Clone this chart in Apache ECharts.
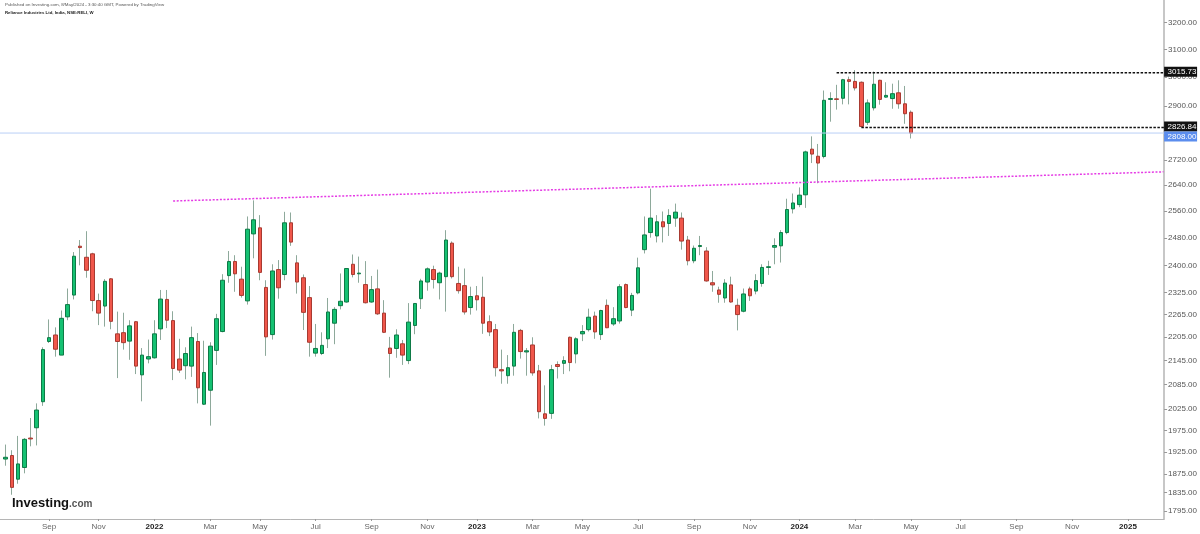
<!DOCTYPE html>
<html>
<head>
<meta charset="utf-8">
<title>Reliance Industries Ltd, NSE:RELI, W</title>
<script src="https://cdn.jsdelivr.net/npm/echarts@6/dist/echarts.min.js"></script>
<style>
  html, body { margin: 0; padding: 0; background: #fff; }
  #chart { width: 1200px; height: 534px; }
</style>
</head>
<body>
<div id="chart"></div>
<script>
// weekly bars, first bar = week of 19 Jul 2021, last = week of 6 May 2024
const firstWeek = '2021-07-19'

const opens = [
  1909, 1917, 1864, 1890, 1957, 1981, 2043, 2194, 2211, 2159, 2259, 2318, 2456, 2424, 2434, 2303, 2288, 2363, 2214, 2217,
  2195, 2246, 2109, 2149, 2152, 2227, 2306, 2249, 2149, 2132, 2131, 2194, 2037, 2071, 2171, 2220, 2372, 2412, 2362, 2302,
  2492, 2510, 2339, 2212, 2389, 2375, 2525, 2408, 2366, 2311, 2164, 2163, 2201, 2242, 2289, 2299, 2404, 2377, 2347, 2299,
  2335, 2269, 2177, 2176, 2188, 2145, 2236, 2308, 2354, 2389, 2352, 2369, 2465, 2350, 2344, 2284, 2316, 2312, 2246, 2225,
  2122, 2107, 2131, 2223, 2167, 2185, 2119, 2014, 2015, 2135, 2138, 2205, 2162, 2214, 2225, 2261, 2212, 2290, 2240, 2248,
  2347, 2277, 2324, 2446, 2496, 2486, 2528, 2523, 2539, 2539, 2474, 2414, 2455, 2442, 2352, 2332, 2310, 2346, 2290, 2274,
  2335, 2329, 2350, 2395, 2453, 2457, 2496, 2567, 2580, 2610, 2755, 2732, 2731, 2922, 2924, 2926, 2991, 2985, 2982, 2844,
  2893, 2989, 2930, 2925, 2945, 2907, 2878
]
const highs = [
  1942, 1929, 1962, 1957, 2004, 2039, 2179, 2252, 2231, 2276, 2336, 2439, 2474, 2500, 2437, 2322, 2362, 2365, 2273, 2270,
  2250, 2248, 2177, 2199, 2250, 2332, 2332, 2274, 2201, 2179, 2233, 2216, 2196, 2192, 2267, 2376, 2442, 2430, 2397, 2544,
  2593, 2548, 2359, 2404, 2416, 2558, 2556, 2430, 2375, 2343, 2240, 2218, 2310, 2285, 2378, 2393, 2432, 2426, 2413, 2371,
  2389, 2304, 2206, 2226, 2198, 2296, 2296, 2363, 2395, 2400, 2383, 2503, 2470, 2397, 2392, 2341, 2343, 2369, 2263, 2240,
  2173, 2159, 2240, 2227, 2177, 2205, 2134, 2083, 2134, 2143, 2156, 2207, 2205, 2237, 2281, 2273, 2278, 2306, 2285, 2348,
  2350, 2324, 2423, 2544, 2629, 2548, 2559, 2566, 2583, 2556, 2486, 2458, 2486, 2453, 2385, 2341, 2362, 2369, 2308, 2336,
  2341, 2376, 2404, 2414, 2479, 2503, 2598, 2614, 2633, 2750, 2797, 2772, 2953, 2947, 2973, 2994, 3002, 3025, 2985, 2922,
  3020, 2991, 2982, 2977, 2989, 2969, 2884
]
const lows = [
  1894, 1830, 1854, 1877, 1938, 1940, 2033, 2190, 2155, 2159, 2250, 2306, 2401, 2366, 2274, 2237, 2233, 2226, 2101, 2173,
  2147, 2111, 2044, 2138, 2150, 2198, 2229, 2096, 2114, 2098, 2104, 2039, 2035, 1986, 2134, 2218, 2352, 2327, 2311, 2292,
  2421, 2359, 2157, 2199, 2308, 2359, 2457, 2322, 2224, 2155, 2155, 2159, 2177, 2187, 2279, 2297, 2367, 2352, 2295, 2297,
  2264, 2216, 2102, 2152, 2134, 2136, 2213, 2280, 2330, 2336, 2306, 2273, 2364, 2322, 2265, 2265, 2276, 2214, 2208, 2105,
  2087, 2087, 2107, 2150, 2107, 2107, 2003, 1986, 2002, 2100, 2111, 2118, 2138, 2195, 2220, 2201, 2198, 2229, 2235, 2241,
  2282, 2261, 2320, 2435, 2481, 2467, 2467, 2486, 2513, 2446, 2401, 2407, 2430, 2355, 2327, 2297, 2297, 2297, 2223, 2271,
  2302, 2320, 2341, 2374, 2404, 2409, 2491, 2553, 2572, 2570, 2710, 2646, 2725, 2846, 2887, 2905, 2905, 2953, 2827, 2835,
  2884, 2904, 2928, 2890, 2890, 2839, 2790
]
const closes = [
  1913, 1846, 1898, 1954, 1955, 2023, 2173, 2204, 2174, 2255, 2292, 2427, 2452, 2387, 2303, 2269, 2356, 2247, 2194, 2191,
  2235, 2131, 2159, 2155, 2214, 2307, 2250, 2125, 2121, 2163, 2204, 2077, 2115, 2182, 2254, 2359, 2412, 2377, 2317, 2506,
  2534, 2381, 2206, 2385, 2338, 2525, 2468, 2354, 2271, 2192, 2176, 2184, 2272, 2279, 2301, 2392, 2375, 2379, 2297, 2333,
  2267, 2218, 2163, 2211, 2159, 2245, 2295, 2357, 2391, 2361, 2379, 2474, 2369, 2330, 2272, 2314, 2305, 2242, 2219, 2127,
  2119, 2127, 2218, 2168, 2170, 2114, 2019, 2003, 2122, 2130, 2145, 2140, 2201, 2220, 2258, 2219, 2276, 2230, 2254, 2341,
  2284, 2317, 2394, 2489, 2539, 2528, 2513, 2547, 2557, 2471, 2414, 2450, 2458, 2357, 2346, 2320, 2351, 2299, 2265, 2321,
  2316, 2358, 2395, 2397, 2458, 2496, 2565, 2585, 2609, 2746, 2739, 2710, 2919, 2925, 2922, 2991, 2985, 2962, 2830, 2910,
  2975, 2922, 2936, 2942, 2907, 2873, 2808
]

// right price scale (log), bottom date scale
const yTicks = [3200, 3100, 3000, 2900, 2800, 2720, 2640, 2560, 2480, 2400, 2325, 2265, 2205, 2145, 2085, 2025, 1975, 1925, 1875, 1835, 1795]
const xTickDates = [
  '2021-09-06', '2021-11-01', '2022-01-03', '2022-03-07', '2022-05-02', '2022-07-04', '2022-09-05', '2022-11-07',
  '2023-01-02', '2023-03-06', '2023-05-01', '2023-07-03', '2023-09-04', '2023-11-06', '2024-01-01', '2024-03-04',
  '2024-05-06', '2024-07-01', '2024-09-02', '2024-11-04', '2025-01-06'
]
const xTickLabels = ['Sep', 'Nov', '2022', 'Mar', 'May', 'Jul', 'Sep', 'Nov', '2023', 'Mar', 'May', 'Jul', 'Sep', 'Nov', '2024', 'Mar', 'May', 'Jul', 'Sep', 'Nov', '2025']

// drawings
const trendDates = ['2022-01-24', '2025-02-15']
const trendPrices = [2591, 2682]
const levelPrices = [3015.73, 2826.84]
const levelStarts = ['2024-02-12', '2024-03-11']
const lastPrice = 2808.00

const DAY = 864e5
const xMin = Date.parse('2021-07-12T14:00:00Z')
const xMax = Date.parse('2025-02-15T17:00:00Z')
const L = Math.log
const week0 = Date.parse(firstWeek)
const weeks = opens.map((_, i) => week0 + i * 7 * DAY)
const xTickValues = xTickDates.map(d => Date.parse(d))

const tagPrices = [levelPrices[0], levelPrices[1], lastPrice]
const tagColors = ['#111111', '#111111', '#5b8dee']
const tagShift = [-1, -1, 3.5]

const font = 'Liberation Sans, Arial, sans-serif'

const chart = echarts.init(document.getElementById('chart'))
chart.setOption({
  animation: false,
  backgroundColor: '#fff',
  textStyle: { fontFamily: font },
  title: [
    {
      text: 'Published on Investing.com, 8/May/2024 - 3:30:40 GMT, Powered by TradingView',
      left: 5,
      top: 3,
      padding: 0,
      textStyle: { fontSize: 4.4, fontWeight: 'normal', color: '#555', fontFamily: font }
    },
    {
      text: 'Reliance Industries Ltd, India, NSE:RELI, W',
      left: 5,
      top: 10.5,
      padding: 0,
      textStyle: { fontSize: 4.3, fontWeight: 'bold', color: '#222', fontFamily: font }
    },
    {
      text: '{a|Investing}{b|.com}',
      left: 12,
      top: 497,
      padding: 0,
      textStyle: {
        rich: {
          a: { fontSize: 13, fontWeight: 'bold', color: '#111', fontFamily: font },
          b: { fontSize: 10, color: '#555', fontFamily: font, padding: [2, 0, 0, 0] }
        }
      }
    }
  ],
  grid: { left: 0, right: 35, top: 0, bottom: 15 },
  xAxis: {
    type: 'value',
    min: xMin,
    max: xMax,
    splitLine: { show: false },
    axisLine: { lineStyle: { color: '#b5b5b5', width: 1 } },
    axisTick: { customValues: xTickValues, length: 2, lineStyle: { color: '#999' } },
    axisLabel: {
      customValues: xTickValues,
      fontSize: 8,
      color: '#666',
      margin: 4,
      formatter: (v) => {
        const i = xTickValues.indexOf(v)
        const s = i >= 0 ? xTickLabels[i] : ''
        return /^\d{4}$/.test(s) ? '{y|' + s + '}' : s
      },
      rich: { y: { fontSize: 8, fontWeight: 'bold', color: '#222', fontFamily: font } }
    }
  },
  yAxis: {
    type: 'value',
    position: 'right',
    min: L(1778.2),
    max: L(3287),
    splitLine: { show: false },
    axisLine: { show: true, lineStyle: { color: '#b5b5b5', width: 1.5 } },
    axisTick: { show: true, customValues: yTicks.map(L), length: 3, lineStyle: { color: '#999' } },
    axisLabel: {
      customValues: yTicks.map(L),
      fontSize: 8,
      color: '#555',
      margin: 4,
      formatter: (v) => Math.exp(v).toFixed(2)
    }
  },
  series: [
    {
      name: 'last',
      type: 'line',
      symbol: 'none',
      silent: true,
      data: [[xMin, L(lastPrice)], [xMax, L(lastPrice)]],
      lineStyle: { color: '#b9cff6', width: 1 }
    },
    {
      name: 'trend',
      type: 'line',
      symbol: 'none',
      silent: true,
      data: trendDates.map((d, i) => [Date.parse(d), L(trendPrices[i])]),
      lineStyle: { color: '#e53be5', width: 1.5, type: [2, 1.6] }
    },
    ...levelPrices.map((p, i) => ({
      name: 'level' + i,
      type: 'line',
      symbol: 'none',
      silent: true,
      z: 4,
      data: [[Date.parse(levelStarts[i]), L(p)], [xMax, L(p)]],
      lineStyle: { color: '#111', width: 1.5, type: [2.5, 1.5] }
    })),
    {
      name: 'wicks',
      type: 'candlestick',
      barWidth: 0.5,
      encode: { x: 0, y: [1, 2, 3, 4] },
      data: weeks.map((t, i) => [t, L(opens[i]), L(closes[i]), L(lows[i]), L(highs[i])]),
      itemStyle: {
        color: '#8ea99b', color0: '#8ea99b',
        borderColor: '#8ea99b', borderColor0: '#8ea99b', borderWidth: 1
      }
    },
    {
      name: 'bodies',
      type: 'candlestick',
      barWidth: 4,
      encode: { x: 0, y: [1, 2, 3, 4] },
      data: weeks.map((t, i) => [t, L(opens[i]), L(closes[i]),
        L(Math.min(opens[i], closes[i])), L(Math.max(opens[i], closes[i]))]),
      itemStyle: {
        color: '#15c172', color0: '#f0574b',
        borderColor: '#0e7a46', borderColor0: '#a83a31', borderWidth: 1
      }
    },
    {
      name: 'tags',
      type: 'custom',
      clip: false,
      z: 10,
      silent: true,
      encode: { x: 0, y: 1 },
      data: tagPrices.map(p => [xMax, L(p)]),
      renderItem: (params, api) => {
        const i = params.dataIndex
        const pt = api.coord([api.value(0), api.value(1)])
        const y = pt[1] + tagShift[i]
        return {
          type: 'group',
          children: [
            { type: 'rect', shape: { x: pt[0], y: y - 5, width: 33, height: 10 }, style: { fill: tagColors[i] } },
            {
              type: 'text', x: pt[0] + 3.5, y: y,
              style: { text: tagPrices[i].toFixed(2), fill: '#fff', fontSize: 8, fontFamily: font, verticalAlign: 'middle' }
            }
          ]
        }
      }
    }
  ]
})
</script>
</body>
</html>
